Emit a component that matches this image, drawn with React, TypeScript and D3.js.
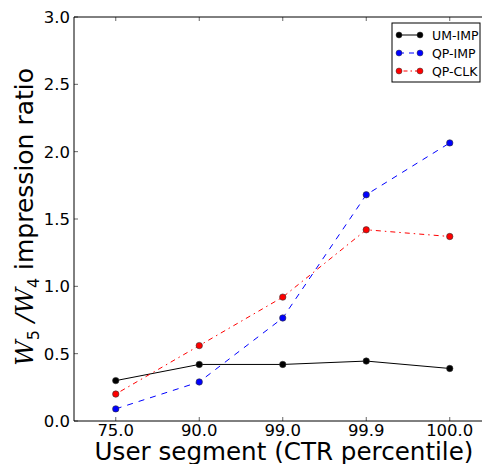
import React from "react";
import * as d3 from "d3";

const categories = ["75.0", "90.0", "99.0", "99.9", "100.0"];
const umImp = [0.30, 0.42, 0.42, 0.445, 0.39];
const qpImp = [0.09, 0.29, 0.765, 1.68, 2.065];
const qpClk = [0.20, 0.56, 0.92, 1.42, 1.37];
const yTicks = [0.0, 0.5, 1.0, 1.5, 2.0, 2.5, 3.0];
const seriesNames = ["UM-IMP", "QP-IMP", "QP-CLK"];

const W = 482, H = 464;
const left = 74, top = 17, bottom = 421;
const step = 83.5;

export default function App() {
  const x = d3.scaleLinear().domain([-0.5, 4.5]).range([left, left + step * 5]);
  const y = d3.scaleLinear().domain([0, 3]).range([bottom, top]);
  const right = x(4.5);
  const series = [
    { name: seriesNames[0], data: umImp, color: "#000000", dash: "none" },
    { name: seriesNames[1], data: qpImp, color: "#0000ff", dash: "6,6" },
    { name: seriesNames[2], data: qpClk, color: "#ff0000", dash: "1.5,4,5,4" },
  ];
  const line = d3.line<number>().x((_, i) => x(i)).y((d) => y(d));
  const font = "DejaVu Sans, sans-serif";
  return (
    <svg width={W} height={H} style={{ position: "absolute", left: 0, top: 0 }} fontFamily={font}>
      <rect x={0} y={0} width={W} height={H} fill="#fff" />
      {series.map((s) => (
        <g key={s.name}>
          <path d={line(s.data) || ""} fill="none" stroke={s.color} strokeWidth={1} strokeDasharray={s.dash} />
          {s.data.map((v, i) => (
            <circle key={i} cx={x(i)} cy={y(v)} r={3.2} fill={s.color} stroke="#333" strokeWidth={0.6} />
          ))}
        </g>
      ))}
      {/* spines */}
      <line x1={left} x2={left} y1={top} y2={bottom} stroke="#000" strokeWidth={1} />
      <line x1={left} x2={right} y1={top} y2={top} stroke="#000" strokeWidth={1} />
      <line x1={left} x2={right} y1={bottom} y2={bottom} stroke="#000" strokeWidth={1} />
      {/* x ticks */}
      {categories.map((c, i) => (
        <g key={c}>
          <line x1={x(i)} x2={x(i)} y1={bottom} y2={bottom - 4} stroke="#000" strokeWidth={0.6} />
          <line x1={x(i)} x2={x(i)} y1={top} y2={top + 4} stroke="#000" strokeWidth={0.6} />
          <text x={x(i)} y={bottom + 14.5} textAnchor="middle" fontSize={16.5}>{c}</text>
        </g>
      ))}
      {yTicks.map((t) => (
        <g key={t}>
          <line x1={left} x2={left + 4} y1={y(t)} y2={y(t)} stroke="#000" strokeWidth={0.6} />
          <text x={left - 4} y={y(t) + 6} textAnchor="end" fontSize={16.5}>{t.toFixed(1)}</text>
        </g>
      ))}
      <text x={284} y={460} textAnchor="middle" fontSize={24.6}>User segment (CTR percentile)</text>
      <text transform={`translate(33,217) rotate(-90)`} textAnchor="middle" fontSize={25}>
        <tspan fontFamily="DejaVu Serif, serif" fontStyle="italic">W</tspan>
        <tspan fontSize={16} dy={6}>5</tspan>
        <tspan dy={-6} fontFamily="DejaVu Serif, serif" fontStyle="italic"> /W</tspan>
        <tspan fontSize={16} dy={6}>4</tspan>
        <tspan dy={-6}> impression ratio</tspan>
      </text>
      {/* legend */}
      <g>
        <rect x={392} y={23} width={88} height={59} fill="#fff" stroke="#000" strokeWidth={1} />
        {series.map((s, i) => {
          const ly = 35 + i * 18;
          return (
            <g key={s.name}>
              <line x1={399} x2={420} y1={ly} y2={ly} stroke={s.color} strokeWidth={1} strokeDasharray={s.dash === "none" ? "none" : i === 1 ? "5,5" : "1.5,3,4,3"} />
              <circle cx={399} cy={ly} r={3} fill={s.color} stroke="#333" strokeWidth={0.5} />
              <circle cx={420} cy={ly} r={3} fill={s.color} stroke="#333" strokeWidth={0.5} />
              <text x={432} y={ly + 4.5} fontSize={12.5}>{s.name}</text>
            </g>
          );
        })}
      </g>
    </svg>
  );
}
